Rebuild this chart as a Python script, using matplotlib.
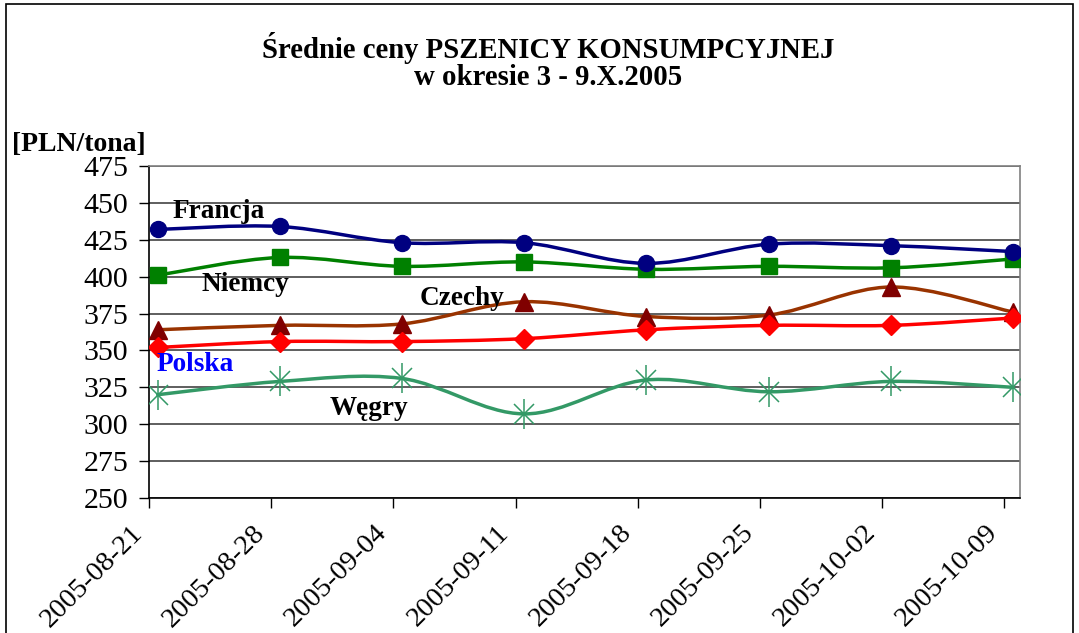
import matplotlib
matplotlib.use("Agg")
import matplotlib.pyplot as plt
import matplotlib.dates as mdates
import matplotlib.transforms as mtransforms
from matplotlib.path import Path
from matplotlib.patches import PathPatch, Rectangle
import numpy as np

# ── Data ─────────────────────────────────────────────────────
dates = ["2005-08-21", "2005-08-28", "2005-09-04", "2005-09-11",
         "2005-09-18", "2005-09-25", "2005-10-02", "2005-10-09"]

francja = [432, 434, 423, 423, 409, 422, 421, 417]
niemcy = [401, 413, 407, 410, 405, 407, 406, 412]
czechy = [364, 367, 368, 383, 373, 374, 393, 376]
polska = [352, 356, 356, 358, 364, 367, 367, 372]
wegry = [320, 329, 331, 307, 330, 322, 329, 325]

y_ticks = [250, 275, 300, 325, 350, 375, 400, 425, 450, 475]

plt.rcParams.update({
    "font.family": "Liberation Serif",
    "font.size": 19,
})

W, H = 1079, 633
fig = plt.figure(figsize=(W / 100, H / 100), dpi=100)
ax = fig.add_axes([149 / W, 1 - 498 / H, (1020 - 149) / W, (498 - 166) / H])

tick_x = mdates.date2num(np.array(dates, dtype="datetime64[D]").astype("O"))
pts_x = tick_x + 0.5   # points sit half a day right of the tick


def smooth_line(xs, ys, color, lw=2.5, z=2):
    """Excel-like smoothed line: Catmull-Rom drawn as cubic Bezier segments."""
    p = np.column_stack([xs, ys]).astype(float)
    n = len(p)
    verts = [p[0]]
    codes = [Path.MOVETO]
    for i in range(n - 1):
        p0 = p[i - 1] if i > 0 else p[i]
        p3 = p[i + 2] if i + 2 < n else p[i + 1]
        c1 = p[i] + (p[i + 1] - p0) / 6.0
        c2 = p[i + 1] - (p3 - p[i]) / 6.0
        verts += [c1, c2, p[i + 1]]
        codes += [Path.CURVE4] * 3
    ax.add_patch(PathPatch(Path(verts, codes), fill=False, edgecolor=color,
                           linewidth=lw, zorder=z, capstyle="round"))


# Węgry
smooth_line(pts_x, wegry, "#339966")
ax.plot(pts_x, wegry, ls="none", marker="x", ms=15, mew=1.1, color="#339966", zorder=3)
ax.plot(pts_x, wegry, ls="none", marker="|", ms=21, mew=1.1, color="#339966", zorder=3)

# Niemcy
smooth_line(pts_x, niemcy, "#008000")
ax.plot(pts_x, niemcy, ls="none", marker="s", ms=12, color="#008000", zorder=3)

# Czechy
smooth_line(pts_x, czechy, "#993300")
ax.plot(pts_x, czechy, ls="none", marker="^", ms=13, color="#800000", zorder=3)

# Polska
smooth_line(pts_x, polska, "#FF0000", z=4)
ax.plot(pts_x, polska, ls="none", marker="D", ms=10, color="#FF0000", zorder=5)

# Francja
smooth_line(pts_x, francja, "#000080", z=4)
ax.plot(pts_x, francja, ls="none", marker="o", ms=11.5, color="#000080", zorder=5)

# ── Axes ─────────────────────────────────────────────────────
ax.set_xlim(tick_x[0], tick_x[0] + 49.9)
ax.set_ylim(250, 475)
ax.set_yticks(y_ticks)
ax.set_xticks(tick_x)
ax.set_xticklabels(dates, rotation=45, ha="right", va="top",
                   rotation_mode="anchor", fontsize=20.5)
ax.set_yticklabels([str(v) for v in y_ticks], fontsize=21.5)

ax.grid(axis="y", color="#333333", linewidth=1.1)
ax.set_axisbelow(True)
ax.tick_params(axis="both", direction="out", length=7, width=1, color="black")
ax.tick_params(axis="y", pad=8)
ax.tick_params(axis="x", pad=9)
shift = mtransforms.ScaledTranslation(-19 / 100, 0, fig.dpi_scale_trans)
for lab in ax.get_xticklabels():
    lab.set_transform(lab.get_transform() + shift)

ax.spines["left"].set_color("black")
ax.spines["bottom"].set_color("black")
ax.spines["top"].set_color("#808080")
ax.spines["right"].set_color("#808080")
for s in ax.spines.values():
    s.set_linewidth(1.2)

# ── Texts ────────────────────────────────────────────────────
fig.text(548.5 / W, 1 - 58 / H, "Średnie ceny PSZENICY KONSUMPCYJNEJ",
         ha="center", va="baseline", fontsize=20.7, fontweight="bold")
fig.text(548 / W, 1 - 85 / H, "w okresie 3 - 9.X.2005",
         ha="center", va="baseline", fontsize=20.7, fontweight="bold")
fig.text(12 / W, 1 - 151 / H, "[PLN/tona]", ha="left", va="baseline",
         fontsize=20, fontweight="bold")

labels = [("Francja", 173, 218, "black"), ("Niemcy", 202, 291, "black"),
          ("Czechy", 420, 305, "black"), ("Polska", 157, 371, "#0000FF"),
          ("Węgry", 330, 415, "black")]
for txt, px, py, col in labels:
    fig.text(px / W, 1 - py / H, txt, ha="left", va="baseline",
             fontsize=19.6, fontweight="bold", color=col, zorder=10)

fig.add_artist(Rectangle((6 / W, -0.05), (1073 - 6) / W, 1.05 - 4 / H,
                         transform=fig.transFigure, fill=False,
                         edgecolor="black", linewidth=1.2))

fig.savefig("out.png", dpi=100)
